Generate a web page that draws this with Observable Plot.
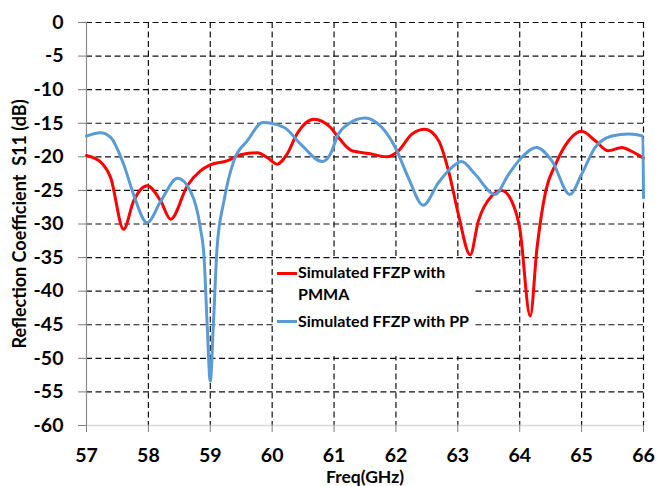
<!DOCTYPE html>
<html>
<head>
<meta charset="utf-8">
<script src="https://cdn.jsdelivr.net/npm/d3@7"></script>
<script src="https://cdn.jsdelivr.net/npm/@observablehq/plot@0.6"></script>
<style>
  html, body { margin: 0; padding: 0; background: white; }
  #wrap { position: relative; width: 658px; height: 486px; overflow: hidden; font-family: Lato, sans-serif; }
  #legend { position: absolute; left: 275px; top: 259px; width: 199px; height: 97px; background: white; }
  .sw { position: absolute; left: 2px; width: 20px; height: 3px; }
  .lt { position: absolute; left: 23px; font-weight: bold; font-size: 16px; line-height: 22px; color: black; white-space: nowrap; }
</style>
</head>
<body>
<div id="wrap"></div>
<script>
// Frequencies (GHz) and S11 (dB)
const pmmaFreq = [57.0, 57.23, 57.39, 57.6, 57.76, 57.98, 58.2, 58.36, 58.63, 58.84, 59.0, 59.27, 59.49, 59.76, 59.92, 60.08, 60.24, 60.4, 60.67, 60.94, 61.07, 61.29, 61.56, 61.85, 62.04, 62.26, 62.47, 62.69, 62.85, 63.01, 63.2, 63.33, 63.55, 63.71, 63.87, 64.0, 64.17, 64.28, 64.42, 64.58, 64.79, 65.0, 65.22, 65.43, 65.65, 65.81, 66.0];
const pmmaS11 = [-19.8, -20.8, -23.1, -30.8, -26.6, -24.3, -26.6, -29.3, -24.3, -22.1, -21.2, -20.6, -19.7, -19.4, -20.1, -21.1, -19.6, -16.6, -14.4, -15.6, -17.1, -19.1, -19.5, -20.0, -19.1, -16.6, -15.9, -17.6, -22.1, -28.6, -34.6, -29.6, -25.8, -25.0, -26.6, -30.6, -43.7, -33.5, -25.1, -21.1, -17.6, -16.2, -17.6, -19.1, -18.6, -19.2, -20.2];

const ppFreq = [57.0, 57.23, 57.39, 57.6, 57.76, 57.98, 58.2, 58.47, 58.68, 58.84, 58.9, 58.95, 59.0, 59.05, 59.11, 59.22, 59.38, 59.6, 59.85, 60.19, 60.46, 60.81, 60.94, 61.07, 61.23, 61.5, 61.77, 61.99, 62.2, 62.44, 62.69, 62.9, 63.06, 63.28, 63.6, 63.82, 64.03, 64.27, 64.52, 64.81, 65.0, 65.22, 65.49, 65.76, 65.99, 66.0];
const ppS11 = [-16.9, -16.4, -17.1, -21.1, -25.6, -29.8, -26.6, -23.2, -25.1, -30.6, -35.0, -45.0, -53.4, -45.0, -33.5, -26.6, -20.6, -17.6, -14.9, -15.6, -18.1, -20.7, -19.6, -16.6, -15.1, -14.2, -15.6, -18.6, -23.1, -27.2, -23.8, -21.6, -20.7, -22.6, -25.6, -22.6, -20.1, -18.6, -20.6, -25.6, -22.6, -18.6, -16.9, -16.6, -16.9, -26.1];

const xTicks = [57, 58, 59, 60, 61, 62, 63, 64, 65, 66];
const yTicks = [0, -5, -10, -15, -20, -25, -30, -35, -40, -45, -50, -55, -60];
const xLabel = "Freq(GHz)";
const yLabel = "Reflection Coefficient  S11 (dB)";
const seriesNames = ["Simulated FFZP with PMMA", "Simulated FFZP with PP"];
const seriesColors = ["#ff0000", "#5b9bd5"];

const pmma = pmmaFreq.map((f, i) => ({f, db: pmmaS11[i]}));
const pp = ppFreq.map((f, i) => ({f, db: ppS11[i]}));

const dash = {stroke: "#111", strokeDasharray: "6,3.5", strokeWidth: 1.2};

const chart = Plot.plot({
  width: 658,
  height: 486,
  marginLeft: 86,
  marginRight: 15,
  marginTop: 22,
  marginBottom: 61,
  x: {domain: [57, 66]},
  y: {domain: [-60, 0]},
  style: {fontFamily: "Lato, sans-serif", background: "white", color: "black", overflow: "visible"},
  marks: [
    Plot.ruleX(xTicks.filter(d => d > 57), dash),
    Plot.ruleY(yTicks.filter(d => d > -60), dash),
    Plot.ruleY([-60], {stroke: "#d9d9d9", strokeWidth: 1.5}),
    Plot.ruleX([57], {stroke: "#8c8c8c", strokeWidth: 1.2}),
    Plot.line(pmma, {x: "f", y: "db", stroke: seriesColors[0], strokeWidth: 3, curve: "monotone-x"}),
    Plot.line(pp, {x: "f", y: "db", stroke: seriesColors[1], strokeWidth: 3, curve: "monotone-x"}),
    Plot.axisX({ticks: xTicks, tickSize: 7, tickPadding: 16, fontSize: 19.5, fontWeight: "bold", stroke: "#7f7f7f", fill: "black", label: null, tickFormat: d => String(d)}),
    Plot.axisY({ticks: yTicks, tickSize: 8, tickPadding: 15, fontSize: 19.5, fontWeight: "bold", stroke: "#7f7f7f", fill: "black", label: null, tickFormat: d => String(d)}),
    Plot.text([yLabel], {text: d => d, frameAnchor: "left", textAnchor: "middle", rotate: -90, dx: -66, fontSize: 18, fontWeight: "bold", fill: "black"}),
    Plot.text([xLabel], {text: d => d, frameAnchor: "bottom", lineAnchor: "top", dy: 45, fontSize: 17.5, fontWeight: "bold", fill: "black"})
  ]
});

const wrap = document.getElementById("wrap");
wrap.appendChild(chart);

const legend = document.createElement("div");
legend.id = "legend";
legend.innerHTML = `
  <div class="sw" style="top:13px;background:${seriesColors[0]}"></div>
  <div class="lt" style="top:2px">Simulated FFZP with<br>PMMA</div>
  <div class="sw" style="top:61px;background:${seriesColors[1]}"></div>
  <div class="lt" style="top:51px">${seriesNames[1]}</div>`;
wrap.appendChild(legend);
</script>
</body>
</html>
